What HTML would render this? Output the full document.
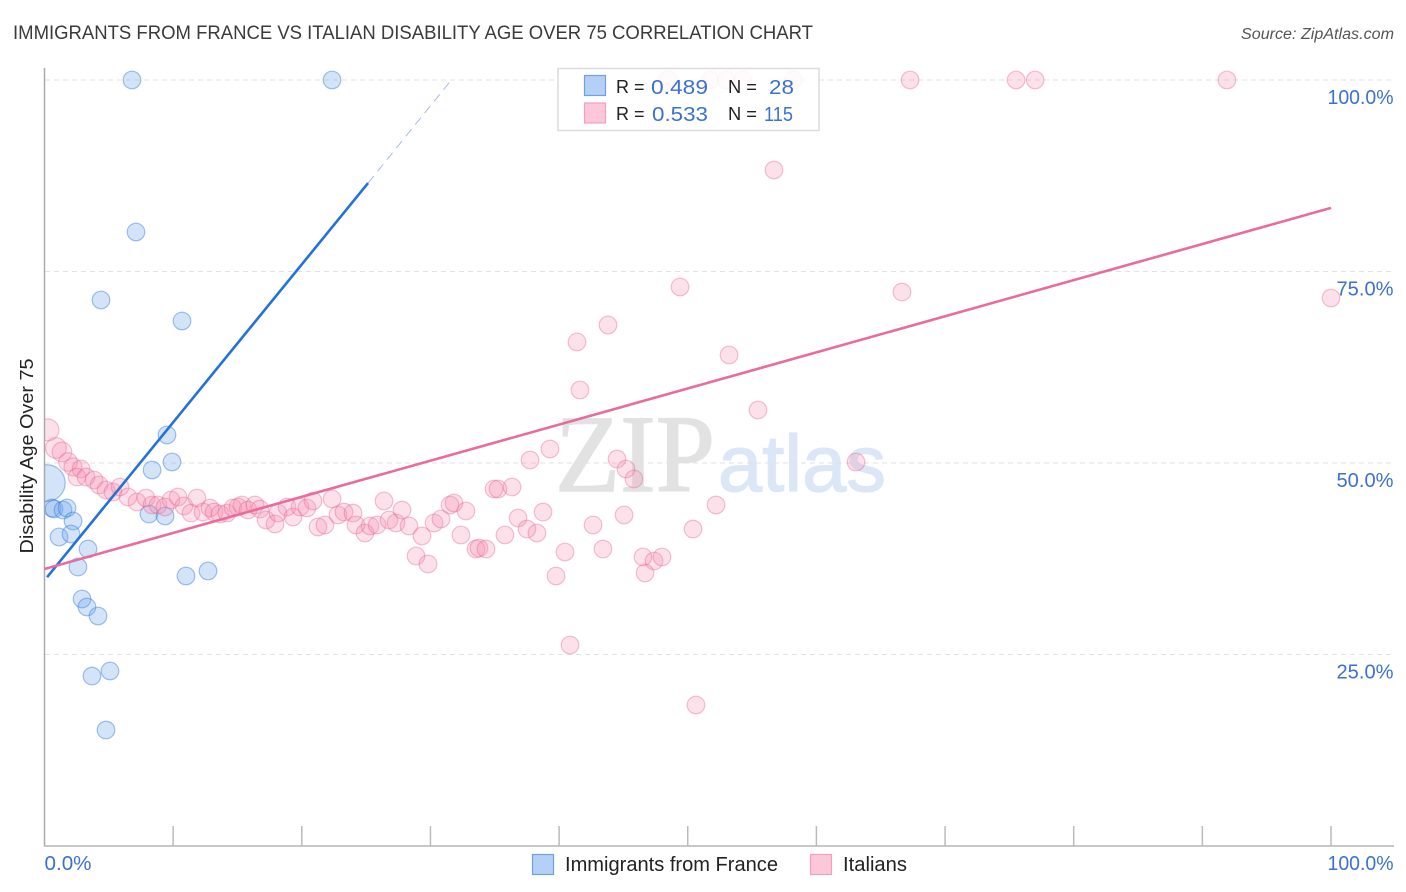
<!DOCTYPE html>
<html lang="en">
<head>
<meta charset="utf-8">
<title>Immigrants from France vs Italian Disability Age Over 75 Correlation Chart</title>
<style>
html,body{margin:0;padding:0;background:#fff;}
svg{display:block;font-family:"Liberation Sans",sans-serif;}
</style>
</head>
<body>
<svg id="chart" width="1406" height="892" viewBox="0 0 1406 892" xmlns="http://www.w3.org/2000/svg">
  <defs><clipPath id="plot-clip"><rect x="45" y="60" width="1349" height="786"/></clipPath></defs>
  <text x="13" y="39" font-size="19" fill="#3a3a3a" textLength="800" lengthAdjust="spacingAndGlyphs">IMMIGRANTS FROM FRANCE VS ITALIAN DISABILITY AGE OVER 75 CORRELATION CHART</text>
  <text x="1394" y="39" font-size="15.5" font-style="italic" fill="#555" text-anchor="end" textLength="153" lengthAdjust="spacingAndGlyphs">Source: ZipAtlas.com</text>
  <g>
    <text x="555" y="491" font-family="'Liberation Serif',serif" font-size="110" fill="#e2e2e2" stroke="#e2e2e2" stroke-width="1.5" textLength="160" lengthAdjust="spacingAndGlyphs">ZIP</text>
    <text x="718" y="491" font-size="80" fill="#dbe7f6" stroke="#dbe7f6" stroke-width="1.2" textLength="168" lengthAdjust="spacingAndGlyphs">atlas</text>
  </g>
  <g id="grid"></g>
  <g id="axes"></g>
  <g id="blue-points" clip-path="url(#plot-clip)"></g>
  <g id="pink-points" clip-path="url(#plot-clip)"></g>
  <g id="trends"></g>
  <text transform="translate(33,456) rotate(-90)" font-size="18" fill="#222" text-anchor="middle" textLength="195" lengthAdjust="spacingAndGlyphs">Disability Age Over 75</text>

  <g>
    <rect x="558" y="68.5" width="261" height="62" fill="#fff" fill-opacity="0.86" stroke="#dcdcdc" stroke-width="1.5"/>
    <rect x="584.5" y="75.5" width="21" height="20" fill="#b5d0f6" stroke="#6fa0e2" stroke-width="1.2"/>
    <rect x="584.5" y="103" width="21" height="20" fill="#fcc8d9" stroke="#f2a0ba" stroke-width="1.2"/>
    <g font-size="18" fill="#222">
      <text x="616" y="93">R =</text>
      <text x="728" y="93" textLength="29" lengthAdjust="spacingAndGlyphs">N =</text>
      <text x="616" y="120">R =</text>
      <text x="728" y="120" textLength="29" lengthAdjust="spacingAndGlyphs">N =</text>
    </g>
    <g font-size="20.5" fill="#3b72d1">
      <text x="651" y="94" textLength="57" lengthAdjust="spacingAndGlyphs">0.489</text>
      <text x="769" y="94" textLength="25" lengthAdjust="spacingAndGlyphs">28</text>
      <text x="652" y="121" textLength="56" lengthAdjust="spacingAndGlyphs">0.533</text>
      <text x="764" y="121" textLength="29" lengthAdjust="spacingAndGlyphs">115</text>
    </g>
  </g>

  <g>
    <rect x="532.5" y="854.5" width="21" height="20" fill="#b5d0f6" stroke="#6fa0e2" stroke-width="1.2"/>
    <text x="565" y="871" font-size="20" fill="#222" textLength="213" lengthAdjust="spacingAndGlyphs">Immigrants from France</text>
    <rect x="810.5" y="854.5" width="21" height="20" fill="#fcc8d9" stroke="#f2a0ba" stroke-width="1.2"/>
    <text x="843" y="871" font-size="20" fill="#222" textLength="64" lengthAdjust="spacingAndGlyphs">Italians</text>
  </g>
</svg>
<script>
const yTickValues = [25, 50, 75, 100];
const yTickLabels = ["25.0%", "50.0%", "75.0%", "100.0%"];
const xTickValues = [0, 10, 20, 30, 40, 50, 60, 70, 80, 90, 100];
const xEndValues = [0, 100];
const xEndLabels = ["0.0%", "100.0%"];

const franceX = [6.8,22.35,7.11,4.39,10.69,9.52,9.91,8.36,0.19,0.58,0.74,1.44,1.75,2.22,1.13,2.06,3.38,2.6,8.12,9.37,11,12.71,2.92,3.3,4.16,3.69,5.09,4.78];
const franceY = [100,100,80.16,71.28,68.54,53.66,50.13,49.09,47.39,44.13,44,43.86,44.13,42.43,40.34,40.73,38.77,36.42,43.34,43.08,35.25,35.9,32.25,31.2,30.03,22.19,22.85,15.14];
const franceWeight = {8: 4.3};

const italiansX = [0.27,0.89,1.36,1.83,2.22,2.84,2.53,3.23,3.85,4.24,4.78,5.32,5.87,6.49,7.19,7.89,8.36,8.82,9.37,9.83,10.38,10.84,11.39,11.85,12.32,12.86,13.18,13.64,14.19,14.65,15.04,15.35,15.82,16.36,16.75,17.22,17.92,18.15,18.85,19.32,19.86,20.4,20.87,21.26,21.8,22.35,22.81,23.28,23.98,24.21,24.91,25.3,25.85,26.39,26.78,27.32,27.79,28.33,29.34,28.88,29.81,30.28,30.82,31.52,31.83,32.76,32.37,33.54,33.77,34.32,34.94,35.25,36.34,35.79,36.81,37.5,38.28,38.75,37.74,39.29,40.46,39.76,42.64,43.41,44.5,45.2,45.82,45.05,46.52,47.38,48,46.68,50.41,52.2,40.85,50.64,63.08,55.46,53.21,49.4,66.65,43.8,41.39,41.62,56.7,100,48.46,51.73,52.97,54.29,58.18,67.28,75.52,77,91.91];
const italiansY = [54.31,51.96,51.44,50.13,49.48,49.22,48.17,48.17,47.78,47.13,46.48,46.21,46.87,45.56,44.91,45.43,44.52,44.52,44.26,45.17,45.56,44.39,43.47,45.43,43.6,44.13,43.6,43.34,43.47,44.13,44.26,44.52,43.86,44.52,43.99,42.56,42.04,43.47,44.26,42.95,44.26,44.13,45.04,41.65,41.91,45.3,43.21,43.6,43.47,41.91,40.86,41.78,41.91,45.04,42.56,42.17,43.86,41.78,40.47,37.86,36.82,42.17,42.69,44.52,44.78,43.73,40.6,38.77,38.9,38.77,46.61,46.61,46.87,40.6,42.82,41.38,40.86,43.6,50.39,51.83,38.38,35.25,41.91,38.77,50.52,49.22,47.91,43.21,37.73,37.21,37.73,35.64,41.38,44.52,26.24,18.41,50.13,56.92,64.1,72.98,72.32,68.02,65.8,59.53,88.25,71.54,100,100,100,100,100,100,100,100,100];
const italiansWeight = {0: 1.55, 1: 1.4, 2: 1.25, 3: 1.12, 4: 1.05};

const franceTrendX = [0.2, 25.15, 31.6];
const franceTrendY = [35.1, 86.55, 99.95];
const italiansTrendX = [0, 100];
const italiansTrendY = [36.16, 83.3];

const NS = "http://www.w3.org/2000/svg";
const xScale = v => 44.5 + v * 12.865;
const yScale = v => 846 - v * 7.66;
const BASE_R = 8.8;

function make(tag, parentId, attrs, text) {
  const el = document.createElementNS(NS, tag);
  for (const k in attrs) el.setAttribute(k, attrs[k]);
  if (text !== undefined) el.textContent = text;
  document.getElementById(parentId).appendChild(el);
  return el;
}

yTickValues.forEach((v, i) => {
  const line = make("line", "grid", {x1: 45, x2: 1394, y1: yScale(v), y2: yScale(v), stroke: "#e2e2e2", "stroke-width": 1, "stroke-dasharray": "5 4"});
  
  
  const label = make("text", "axes", {x: 1393.5, y: yScale(v) + 24, "text-anchor": "end", "font-size": 20, fill: "#3b72d1", textLength: yTickLabels[i].length > 5 ? 66 : 57, lengthAdjust: "spacingAndGlyphs"}, yTickLabels[i]);
  
  
});

const yAxis = make("line", "axes", {x1: 44.5, x2: 44.5, y1: 68, y2: 846.5, stroke: "#aaa", "stroke-width": 1.5});


const xAxis = make("line", "axes", {x1: 44, x2: 1394, y1: 846, y2: 846, stroke: "#b5b5b5", "stroke-width": 1.5});



xTickValues.slice(1).forEach(v => {
  const tick = make("line", "axes", {x1: xScale(v), x2: xScale(v), y1: 826, y2: 846, stroke: "#bbb", "stroke-width": 1.5});
  
  
});

xEndValues.forEach((v, i) => {
  const label = make("text", "axes", {x: v === 0 ? xScale(v) : 1393.5, y: 870, "text-anchor": v === 0 ? "start" : "end", "font-size": 20, fill: "#3b72d1", textLength: v === 0 ? 47 : 66, lengthAdjust: "spacingAndGlyphs"}, xEndLabels[i]);
  
  
});

franceX.forEach((v, i) => {
  const r = BASE_R * Math.sqrt(franceWeight[i] || 1);
  const pt = make("circle", "blue-points", {cx: xScale(v), cy: yScale(franceY[i]), r: r, fill: "rgba(110,165,235,0.3)", stroke: "rgba(50,120,215,0.45)", "stroke-width": 1.2});
  
  
});

italiansX.forEach((v, i) => {
  const r = BASE_R * Math.sqrt(italiansWeight[i] || 1);
  const pt = make("circle", "pink-points", {cx: xScale(v), cy: yScale(italiansY[i]), r: r, fill: "rgba(245,135,170,0.25)", stroke: "rgba(230,100,145,0.4)", "stroke-width": 1.2});
  
  
});

const franceSolid = make("line", "trends", {x1: xScale(franceTrendX[0]), y1: yScale(franceTrendY[0]), x2: xScale(franceTrendX[1]), y2: yScale(franceTrendY[1]), stroke: "#2272d8", "stroke-width": 2.6});


const franceDash = make("line", "trends", {x1: xScale(franceTrendX[1]), y1: yScale(franceTrendY[1]), x2: xScale(franceTrendX[2]), y2: yScale(franceTrendY[2]), stroke: "#a9bce3", "stroke-width": 1, "stroke-dasharray": "9 6"});


const italiansLine = make("line", "trends", {x1: xScale(italiansTrendX[0]), y1: yScale(italiansTrendY[0]), x2: xScale(italiansTrendX[1]), y2: yScale(italiansTrendY[1]), stroke: "#e86c9c", "stroke-width": 2.6});


</script>
</body>
</html>
